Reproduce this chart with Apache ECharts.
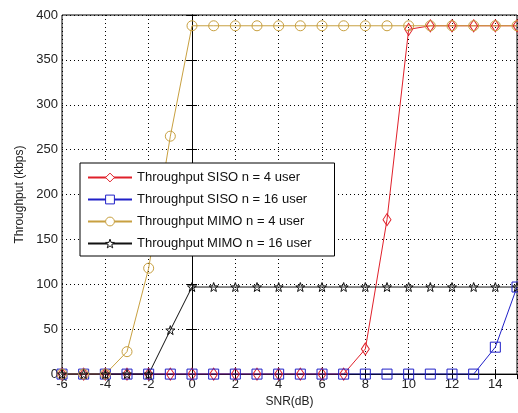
<!DOCTYPE html>
<html>
<head>
<meta charset="utf-8">
<script src="https://cdn.jsdelivr.net/npm/echarts@6/dist/echarts.min.js"></script>
<style>html,body{margin:0;padding:0;background:#fff;}#c{width:518px;height:413px;}</style>
</head>
<body>
<div id="c"></div>
<script>
const snr = [-6,-5,-4,-3,-2,-1,0,1,2,3,4,5,6,7,8,9,10,11,12,13,14,15];
const sisoN4 =  [0,0,0,0,0,0,0,0,0,0,0,0,0,0,28,172,384,388,388,388,388,388];
const sisoN16 = [0,0,0,0,0,0,0,0,0,0,0,0,0,0,0,0,0,0,0,0,30,97];
const mimoN4 =  [0,0,0,25,118,265,388,388,388,388,388,388,388,388,388,388,388,388,388,388,388,388];
const mimoN16 = [0,0,0,0,0,49,97,97,97,97,97,97,97,97,97,97,97,97,97,97,97,97];
const names = ['Throughput SISO n = 4 user','Throughput SISO n = 16 user','Throughput MIMO n = 4 user','Throughput MIMO n = 16 user'];
const xTicks = [-6,-4,-2,0,2,4,6,8,10,12,14];

const star = 'path://M0,-10 L2.35,-3.24 L9.51,-3.09 L3.8,1.24 L5.88,8.09 L0,4 L-5.88,8.09 L-3.8,1.24 L-9.51,-3.09 L-2.35,-3.24 Z';
const pairs = arr => snr.map((x,i)=>[x,arr[i]]);
const font = 'Arial, "Liberation Sans", sans-serif';

function mk(name, data, color, symbol, size){
  return {
    name, type:'line', data: pairs(data), symbol, symbolSize:size, color,
    lineStyle:{color, width:1}, itemStyle:{color:'rgba(255,255,255,0)', borderColor:color, borderWidth:1},
    emphasis:{disabled:true}, z:3
  };
}
const grid = {left:62, right:1, top:15, bottom:37, show:true, borderColor:'#000', borderWidth:1};
const split = {show:true, lineStyle:{color:'#000', type:[1,3], width:1}};
const chart = echarts.init(document.getElementById('c'), null, {renderer:'canvas'});
chart.setOption({
  animation:false,
  backgroundColor:'#fff',
  grid,
  legend:{
    data:names, orient:'vertical', left:80, top:163,
    backgroundColor:'#fff', borderColor:'#000', borderWidth:1,
    padding:[8,23,6,7], itemWidth:44, itemHeight:11, itemGap:9,
    itemStyle:{color:'#fff', borderColor:'inherit', borderWidth:1},
    textStyle:{fontFamily:font, fontSize:13, color:'#111'}
  },
  xAxis:[{
    type:'value', min:-6, max:15, interval:2,
    name:'SNR(dB)', nameLocation:'middle', nameGap:19,
    nameTextStyle:{fontFamily:font, fontSize:12, color:'#222'},
    axisLine:{show:true, onZero:false, lineStyle:{color:'#000'}},
    axisTick:{show:true, inside:true, length:5, lineStyle:{color:'#000'}},
    axisLabel:{fontFamily:font, fontSize:13, color:'#222', margin:4, showMaxLabel:false,
      formatter: v => xTicks.includes(v) ? String(v) : ''},
    splitLine:split
  },{
    type:'value', min:-6, max:15, interval:2, position:'top',
    axisLine:{show:true, lineStyle:{color:'#000'}},
    axisTick:{show:true, inside:true, length:5, lineStyle:{color:'#000'}},
    axisLabel:{show:false}, splitLine:{show:false}
  }],
  yAxis:[{
    type:'value', min:0, max:400, interval:50,
    name:'Throughput (kbps)', nameLocation:'middle', nameGap:35,
    nameTextStyle:{fontFamily:font, fontSize:12, color:'#222'},
    axisLine:{show:true, lineStyle:{color:'#000'}},
    axisTick:{show:true, inside:true, length:5, lineStyle:{color:'#000'}},
    axisLabel:{fontFamily:font, fontSize:13, color:'#222', margin:4},
    splitLine:split
  },{
    type:'value', min:0, max:400, interval:50, position:'right',
    axisLine:{show:true, lineStyle:{color:'#000'}},
    axisTick:{show:true, inside:true, length:5, lineStyle:{color:'#000'}},
    axisLabel:{show:false}, splitLine:{show:false}
  }],
  series:[
    mk(names[0], sisoN4, '#e0202a', 'diamond', [8,12]),
    mk(names[1], sisoN16, '#2020c8', 'rect', 10),
    mk(names[2], mimoN4, '#c8a040', 'circle', 10),
    mk(names[3], mimoN16, '#111111', star, 9)
  ]
});
</script>
</body>
</html>
